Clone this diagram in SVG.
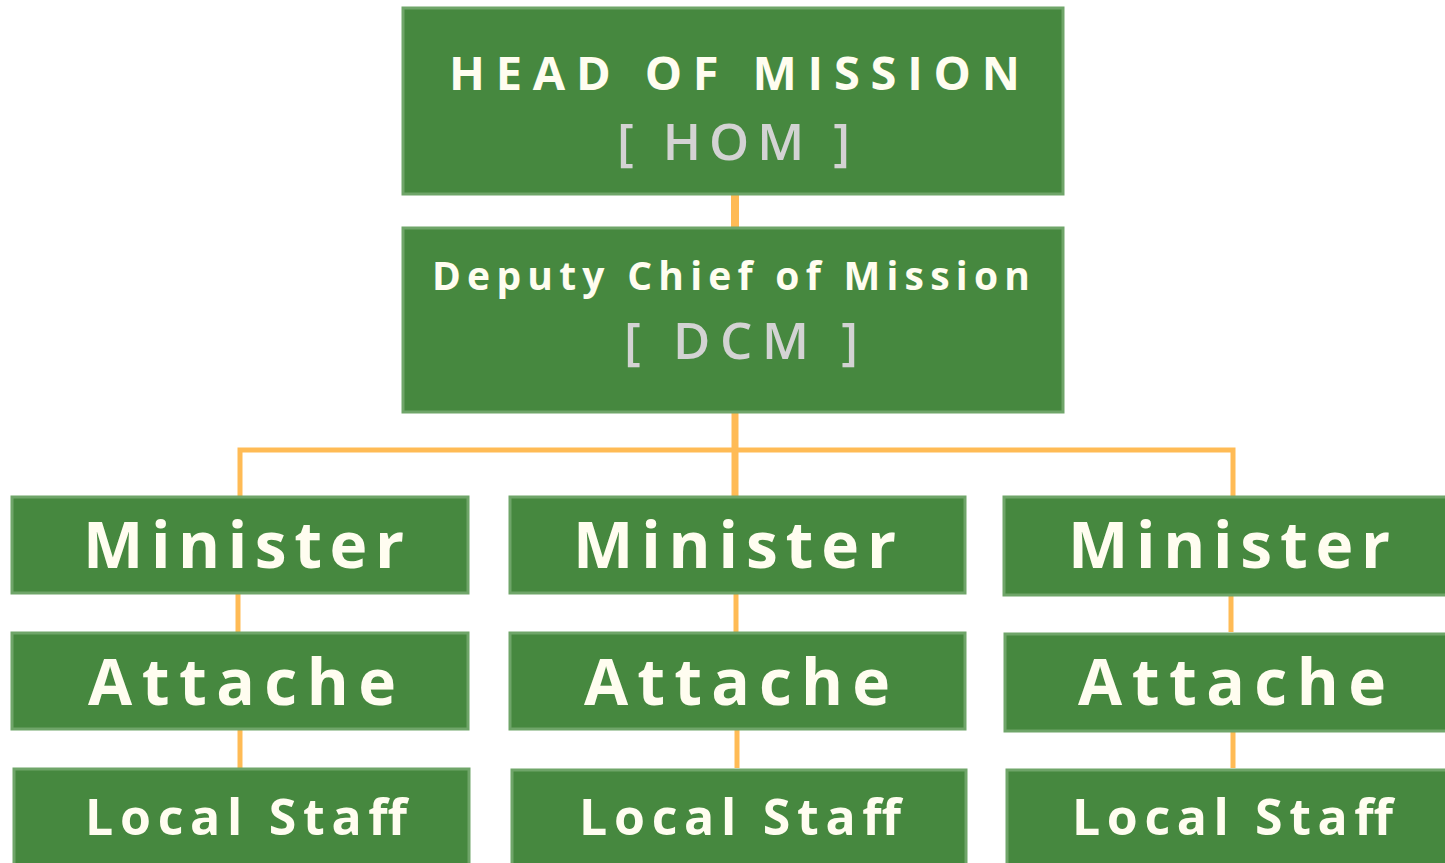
<svg xmlns="http://www.w3.org/2000/svg" width="1445" height="863" viewBox="0 0 1445 863">
<style>
.box{fill:#46883F;stroke:#6FA569;stroke-width:3}
.t{font-family:"Open Sans","Liberation Sans",sans-serif;font-weight:700;fill:#FFFDF0;text-anchor:middle}
.g{fill:#D3D3D3;font-weight:600}
.c{stroke:#FFBB55;fill:none}
</style>
<rect width="1445" height="863" fill="#ffffff"/>
<g id="connectors" class="c">
<line x1="735" y1="194" x2="735" y2="227" stroke-width="8"/>
<line x1="735" y1="412" x2="735" y2="496" stroke-width="7"/>
<polyline points="240,496 240,450 1233,450 1233,496" stroke-width="5"/>
<line x1="238" y1="593" x2="238" y2="632" stroke-width="5"/>
<line x1="736" y1="593" x2="736" y2="632" stroke-width="5"/>
<line x1="1231" y1="593" x2="1231" y2="632" stroke-width="5"/>
<line x1="240" y1="730" x2="240" y2="768" stroke-width="5"/>
<line x1="737" y1="730" x2="737" y2="768" stroke-width="5"/>
<line x1="1233" y1="730" x2="1233" y2="768" stroke-width="5"/>
</g>
<g id="hom">
<rect class="box" x="403" y="8" width="660" height="186"/>
<text class="t" x="734.5" y="90" font-size="47" textLength="571" lengthAdjust="spacing">HEAD OF MISSION</text>
<text class="t g" x="733.5" y="160" font-size="51" textLength="233" lengthAdjust="spacing">[ HOM ]</text>
</g>
<g id="dcm">
<rect class="box" x="403" y="228" width="660" height="184"/>
<text class="t" x="731" y="290" font-size="39" textLength="598" lengthAdjust="spacing">Deputy Chief of Mission</text>
<text class="t g" x="741" y="359" font-size="51" textLength="234" lengthAdjust="spacing">[ DCM ]</text>
</g>
<g id="minister1">
<rect class="box" x="12" y="497" width="456" height="96"/>
<text class="t" x="243.5" y="568" font-size="64" textLength="321" lengthAdjust="spacing">Minister</text>
</g>
<g id="minister2">
<rect class="box" x="510" y="497" width="455" height="96"/>
<text class="t" x="734.5" y="568" font-size="64" textLength="323" lengthAdjust="spacing">Minister</text>
</g>
<g id="minister3">
<rect class="box" x="1004" y="497" width="445" height="98"/>
<text class="t" x="1229" y="568" font-size="64" textLength="322" lengthAdjust="spacing">Minister</text>
</g>
<g id="attache1">
<rect class="box" x="12" y="633" width="456" height="96"/>
<text class="t" x="242" y="705" font-size="64" textLength="308" lengthAdjust="spacing">Attache</text>
</g>
<g id="attache2">
<rect class="box" x="510" y="633" width="455" height="96"/>
<text class="t" x="737" y="705" font-size="64" textLength="306" lengthAdjust="spacing">Attache</text>
</g>
<g id="attache3">
<rect class="box" x="1005" y="634" width="445" height="97"/>
<text class="t" x="1232" y="705" font-size="64" textLength="308" lengthAdjust="spacing">Attache</text>
</g>
<g id="staff1">
<rect class="box" x="14" y="769" width="455" height="100"/>
<text class="t" x="246" y="835" font-size="50" textLength="322" lengthAdjust="spacing">Local Staff</text>
</g>
<g id="staff2">
<rect class="box" x="512" y="770" width="454" height="100"/>
<text class="t" x="740" y="835" font-size="50" textLength="322" lengthAdjust="spacing">Local Staff</text>
</g>
<g id="staff3">
<rect class="box" x="1007" y="770" width="445" height="100"/>
<text class="t" x="1232.5" y="835" font-size="50" textLength="321" lengthAdjust="spacing">Local Staff</text>
</g>
</svg>
